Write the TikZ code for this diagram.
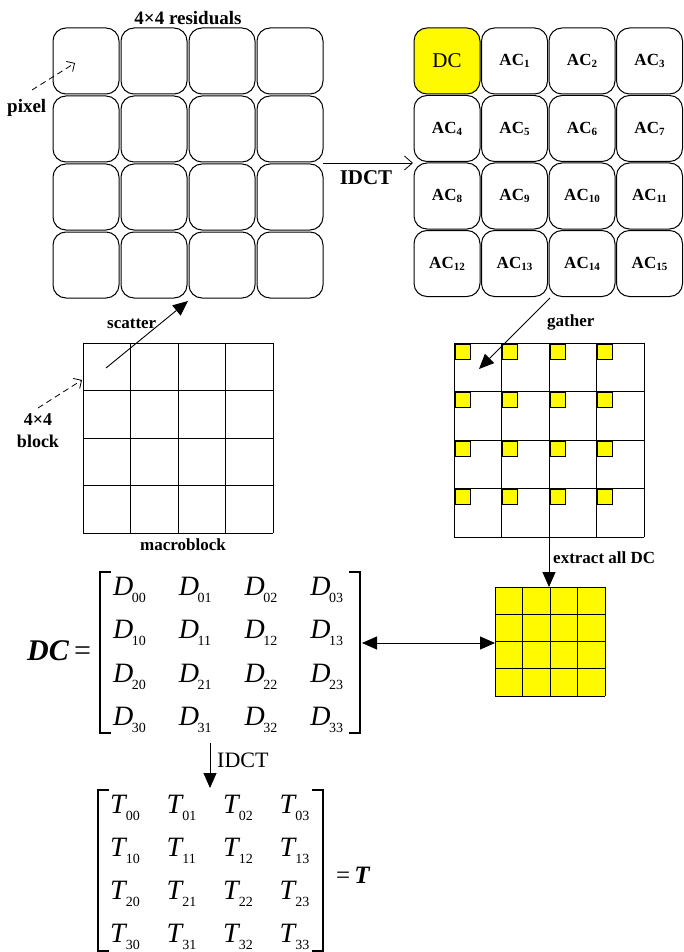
\documentclass[tikz,border=0pt]{standalone}
\usepackage{fontspec}
\setmainfont{Liberation Serif}
\usetikzlibrary{arrows.meta}
\newcommand\acsub[1]{\raisebox{-2pt}{\fontsize{11}{11}\selectfont #1}}
\newcommand\mentry[2]{\fontsize{28}{28}\selectfont\textit{#1}\kern-1.5pt\raisebox{-7pt}{\fontsize{14}{14}\selectfont #2}}
\definecolor{ylw}{RGB}{255,250,0}
\begin{document}
\begin{tikzpicture}[x=1pt,y=-1pt,
  rcell/.style={draw=black, line width=1pt, rounded corners=13pt, minimum width=66pt, minimum height=66pt, inner sep=0pt},
  grd/.style={line width=1pt},
  lbl/.style={inner sep=0pt, font=\bfseries\fontsize{18}{20}\selectfont},
  fat/.style={line width=0.9pt, -{Triangle[length=15pt,width=13pt]}},
  dbl/.style={line width=0.9pt, {Triangle[length=15pt,width=13pt]}-{Triangle[length=15pt,width=13pt]}},
  barb/.style={line width=0.8pt, -{Straight Barb[length=6pt,width=12pt]}},
  dsh/.style={dash pattern=on 6pt off 4pt},
  brk/.style={line width=1.3pt},
  ent/.style={anchor=base west, inner sep=0pt}]
\useasboundingbox (0,0) rectangle (683,952);

% ---------- top-left: 4x4 residuals ----------
\foreach \j in {0,...,3}{
  \foreach \i in {0,...,3}{
    \node[rcell] (p\j\i) at ({86+68*\i},{61+68*\j}) {};
  }
}
\node[lbl, font=\bfseries\fontsize{19}{21}\selectfont, anchor=base] (restitle) at (188,25) {4×4 residuals};
\node[lbl, font=\bfseries\fontsize{19}{21}\selectfont, anchor=base west] (pixlbl) at (7,113) {pixel};
\coordinate (pixS) at (32,90);
\coordinate (pixE) at (75,63);
\draw[barb, dsh] (pixS) -- (pixE);

% ---------- top-right: coefficients ----------
\node[rcell, fill=ylw, font=\fontsize{21}{22}\selectfont] (a0) at (447,61) {DC};
\foreach \k in {1,...,15}{
  \pgfmathtruncatemacro\ii{mod(\k,4)}
  \pgfmathtruncatemacro\jj{div(\k,4)}
  \node[rcell, font=\bfseries\fontsize{17}{19}\selectfont] (a\k) at ({447+67.5*\ii},{61+67.5*\jj}) {AC\acsub{\k}};
}

% IDCT arrow (top)
\coordinate (idS) at (323,163);
\coordinate (idE) at (413,163);
\draw[line width=0.8pt, -{Straight Barb[length=8pt,width=14pt]}] (idS) -- (idE);
\node[lbl, font=\bfseries\fontsize{21}{22}\selectfont, anchor=base] (idlbl) at (366,185) {IDCT};

% ---------- macroblock ----------
\foreach \i in {0,...,4}{
  \draw[grd] ({83+47.5*\i},343) -- ({83+47.5*\i},533);
  \draw[grd] (83,{343+47.5*\i}) -- (273,{343+47.5*\i});
}
\node[lbl, font=\bfseries\fontsize{17}{19}\selectfont, anchor=base] (mblbl) at (183,550) {macroblock};
\node[lbl, font=\bfseries\fontsize{17}{19}\selectfont, anchor=base west] (sclbl) at (107,328) {scatter};
\node[lbl, font=\bfseries\fontsize{18}{20}\selectfont, anchor=base] (blk1) at (38,425) {4×4};
\node[lbl, font=\bfseries\fontsize{18}{20}\selectfont, anchor=base] (blk2) at (38,447) {block};
\coordinate (blkS) at (38,408);
\coordinate (blkE) at (82,380);
\draw[barb, dsh] (blkS) -- (blkE);
\coordinate (scS) at (106,368);
\coordinate (scE) at (188,301);
\draw[fat] (scS) -- (scE);

% ---------- gather grid ----------
\foreach \i in {0,...,4}{
  \draw[grd] ({454+47.5*\i},343) -- ({454+47.5*\i},537);
  \draw[grd] (454,{343+48.5*\i}) -- (644,{343+48.5*\i});
}
\foreach \j in {0,...,3}{
  \foreach \i in {0,...,3}{
    \draw[line width=0.7pt, fill=ylw] ({455+47.5*\i},{344+48.5*\j}) rectangle +(15,15);
  }
}
\coordinate (gaS) at (550,298);
\coordinate (gaE) at (479,369);
\draw[fat] (gaS) -- (gaE);
\node[lbl, font=\bfseries\fontsize{17}{19}\selectfont, anchor=base west] (galbl) at (547,326) {gather};

% extract arrow
\coordinate (exS) at (549,537);
\coordinate (exE) at (549,587);
\draw[fat] (exS) -- (exE);
\node[lbl, font=\bfseries\fontsize{17}{19}\selectfont, anchor=base west] (exlbl) at (553,563) {extract all DC};

% ---------- yellow DC grid ----------
\fill[ylw] (495,587) rectangle (605,696);
\foreach \i in {0,...,4}{
  \draw[grd] ({495+27.5*\i},587) -- ({495+27.5*\i},696);
  \draw[grd] (495,{587+27.25*\i}) -- (605,{587+27.25*\i});
}

% ---------- DC matrix ----------
\node[anchor=base west, inner sep=0pt, font=\fontsize{30}{30}\selectfont] (dclbl) at (27,660) {\textbf{\textit{DC}}\,=};
\draw[brk] (111,572) -- (100,572) -- (100,733) -- (111,733);
\draw[brk] (349,572) -- (360,572) -- (360,733) -- (349,733);
\foreach \j in {0,...,3}{
  \foreach \i in {0,...,3}{
    \node[ent] (d\j\i) at ({113+65.7*\i},{595+43.5*\j}) {\mentry{D}{\j\i}};
  }
}
\coordinate (dbS) at (362,643);
\coordinate (dbE) at (495,643);
\draw[dbl] (dbS) -- (dbE);

% IDCT arrow (bottom)
\coordinate (id2S) at (210,743);
\coordinate (id2E) at (210,788);
\draw[fat] (id2S) -- (id2E);
\node[anchor=base west, inner sep=0pt, font=\fontsize{22}{22}\selectfont] (id2lbl) at (217,767) {IDCT};

% ---------- T matrix ----------
\draw[brk] (109,790) -- (98,790) -- (98,951) -- (109,951);
\draw[brk] (312,790) -- (323,790) -- (323,951) -- (312,951);
\foreach \j in {0,...,3}{
  \foreach \i in {0,...,3}{
    \node[ent] (t\j\i) at ({110+56.5*\i},{813+43.3*\j}) {\mentry{T}{\j\i}};
  }
}
\node[anchor=base west, inner sep=0pt, font=\fontsize{25}{25}\selectfont] (tlbl) at (336,883) {=\,\textbf{\textit{T}}};
\end{tikzpicture}
\end{document}
